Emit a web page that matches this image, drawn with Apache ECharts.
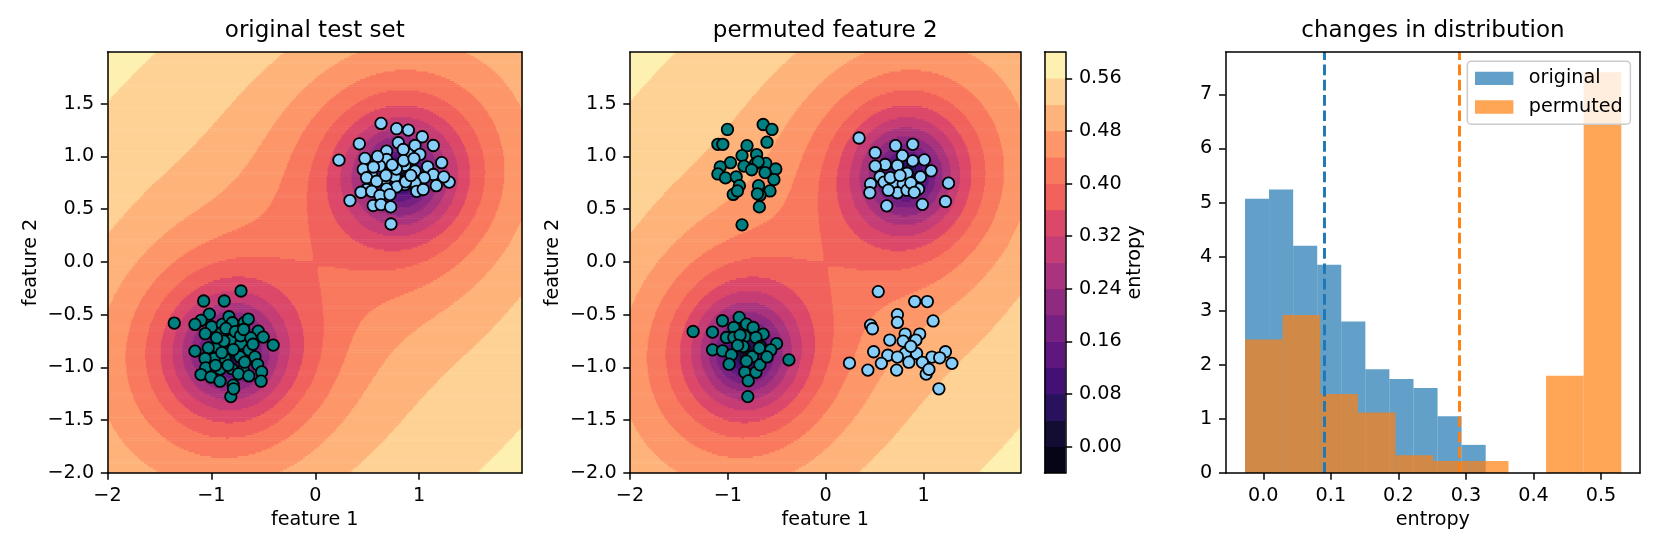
<!DOCTYPE html>
<html><head><meta charset="utf-8">
<script src="https://cdn.jsdelivr.net/npm/echarts@6.0.0/dist/echarts.min.js"></script>
<style>html,body{margin:0;padding:0;background:#fff}#c{width:1661px;height:554px}</style>
</head><body><div id="c"></div>
<script>
// ---------------- data ----------------
const origClass0 = [[-0.715,-0.275],[-1.074,-0.370],[-0.876,-0.370],[-1.357,-0.579],[-1.020,-0.494],[-1.100,-0.554],[-1.158,-0.592],[-0.997,-0.614],[-0.895,-0.592],[-0.831,-0.519],[-0.798,-0.576],[-0.684,-0.576],[-0.645,-0.541],[-0.549,-0.655],[-0.501,-0.712],[-0.405,-0.788],[-1.158,-0.845],[-0.908,-0.678],[-0.811,-0.741],[-0.715,-0.773],[-0.638,-0.836],[-0.949,-0.804],[-1.030,-0.814],[-0.870,-0.915],[-0.973,-0.915],[-1.061,-0.915],[-0.725,-0.899],[-0.581,-0.899],[-0.555,-0.972],[-1.055,-1.004],[-0.917,-1.016],[-0.805,-1.010],[-0.693,-1.026],[-0.516,-1.042],[-1.100,-1.067],[-1.004,-1.090],[-0.917,-1.130],[-0.790,-1.168],[-0.522,-1.130],[-0.813,-1.276],[-0.786,-1.202],[-0.86,-0.63],[-0.77,-0.66],[-0.72,-0.70],[-0.88,-0.75],[-0.79,-0.83],[-0.68,-0.95],[-0.62,-0.72],[-0.95,-0.72],[-0.84,-0.98],[-0.74,-1.06],[-0.64,-1.08],[-0.96,-0.98],[-0.90,-0.86],[-0.69,-0.64],[-0.60,-0.78],[-1.06,-0.68]];
const origClass1 = [[0.633,1.313],[0.783,1.263],[0.896,1.25],[1.030,1.187],[1.136,1.104],[0.424,1.12],[0.799,1.13],[0.960,1.104],[0.228,0.965],[0.478,0.981],[0.687,1.05],[0.687,0.971],[0.896,1.019],[1.007,1.019],[0.847,1.066],[0.462,0.877],[0.543,0.82],[0.494,0.798],[0.671,0.782],[0.767,0.807],[0.863,0.915],[0.960,0.861],[1.082,0.902],[1.136,0.829],[1.049,0.798],[0.960,0.75],[0.863,0.734],[0.783,0.712],[0.687,0.693],[0.591,0.765],[0.494,0.687],[0.440,0.661],[0.543,0.67],[0.623,0.63],[0.719,0.639],[0.334,0.582],[0.558,0.535],[0.633,0.544],[0.726,0.522],[0.729,0.36],[0.976,0.67],[1.039,0.687],[1.289,0.757],[1.237,0.807],[1.217,0.941],[1.165,0.723],[0.62,0.91],[0.78,0.88],[0.85,0.96],[0.68,0.82],[0.95,0.98],[0.87,0.76],[0.60,1.00],[0.74,0.92],[0.92,0.82],[0.56,0.90]];
const permClass0 = [[-1.004,1.256],[-0.639,1.303],[-0.549,1.256],[-1.102,1.115],[-1.051,1.115],[-0.804,1.102],[-0.600,1.135],[-0.855,1.008],[-0.706,1.018],[-0.718,0.931],[-0.612,0.934],[-0.973,0.941],[-1.078,0.901],[-0.835,0.908],[-0.690,0.948],[-0.510,0.881],[-1.102,0.834],[-1.024,0.797],[-0.914,0.807],[-0.882,0.723],[-0.757,0.874],[-0.620,0.847],[-0.529,0.780],[-0.569,0.673],[-0.686,0.723],[-0.671,0.633],[-0.945,0.640],[-0.902,0.673],[-0.698,0.646],[-0.678,0.522],[-0.855,0.352],
  [-1.355,-0.659],[-1.157,-0.665],[-1.055,-0.557],[-0.884,-0.526],[-0.810,-0.589],[-0.939,-0.621],[-0.741,-0.621],[-0.639,-0.684],[-1.014,-0.716],[-0.939,-0.716],[-0.826,-0.706],[-0.713,-0.716],[-1.157,-0.833],[-1.055,-0.842],[-0.963,-0.880],[-0.843,-0.801],[-0.748,-0.896],[-0.666,-0.801],[-0.987,-0.969],[-0.826,-1.045],[-0.713,-1.045],[-0.792,-1.127],[-0.672,-0.975],[-0.502,-0.774],[-0.561,-0.834],[-0.376,-0.928],[-0.796,-1.276],[-0.875,-0.693],[-0.678,-0.817],[-0.900,-0.790],[-0.600,-0.900],[-0.810,-0.940]];
const permClass1 = [[0.341,1.175],[0.714,1.102],[0.890,1.115],[0.506,1.035],[0.784,1.008],[0.608,0.924],[0.506,0.908],[1.008,0.968],[0.890,0.958],[1.078,0.864],[0.733,0.914],[0.557,0.807],[0.831,0.841],[0.969,0.807],[0.459,0.740],[0.596,0.757],[0.694,0.740],[0.792,0.740],[1.255,0.747],[0.451,0.656],[0.733,0.656],[0.831,0.680],[0.949,0.690],[0.624,0.532],[0.988,0.546],[1.224,0.573],[0.660,0.800],[0.760,0.820],[0.870,0.750],[0.640,0.680],[0.905,0.660],
  [0.537,-0.281],[0.910,-0.375],[1.039,-0.375],[0.733,-0.499],[0.733,-0.573],[0.459,-0.599],[0.478,-0.633],[1.098,-0.559],[0.961,-0.683],[0.812,-0.683],[0.655,-0.740],[0.792,-0.750],[0.922,-0.740],[0.490,-0.851],[0.635,-0.884],[0.812,-0.867],[0.929,-0.867],[0.733,-0.901],[1.224,-0.851],[1.086,-0.901],[0.988,-0.951],[1.165,-0.908],[0.243,-0.958],[0.569,-0.961],[1.290,-0.961],[0.431,-1.025],[0.725,-1.025],[1.027,-1.062],[1.055,-1.018],[1.157,-1.202],[0.870,-0.800],[0.850,-0.950]];

// histogram (density) of entropy
const origBinEdges = [-0.0271, 0.0085, 0.0442, 0.0798, 0.1154, 0.1511, 0.1867, 0.2224, 0.2580, 0.2936, 0.3293];
const origDensity  = [5.07, 5.24, 4.20, 3.85, 2.80, 1.92, 1.74, 1.57, 1.05, 0.52];
const permBinEdges = [-0.0271, 0.0286, 0.0844, 0.1401, 0.1958, 0.2515, 0.3072, 0.3630, 0.4187, 0.4744, 0.5301];
const permDensity  = [2.47, 2.92, 1.46, 1.12, 0.33, 0.22, 0.22, 0.00, 1.80, 7.41];
const meanEntropy  = [0.0923, 0.2922];   // original, permuted

// entropy contour levels and colorbar ticks
const entropyLevels = [-0.04,0.00,0.04,0.08,0.12,0.16,0.20,0.24,0.28,0.32,0.36,0.40,0.44,0.48,0.52,0.56,0.60];
const colorbarTicks = [0.00,0.08,0.16,0.24,0.32,0.40,0.48,0.56];
const featureXTicks = [-2,-1,0,1];
const featureYTicks = [-2,-1.5,-1,-0.5,0,0.5,1,1.5];
const histXTicks = [0.0,0.1,0.2,0.3,0.4,0.5];
const histYTicks = [0,1,2,3,4,5,6,7];

// model of the entropy surface (two confident wells + weak diagonal term)
const fieldCenters = [[-0.82,-0.85],[0.82,0.82]];
const fieldRange = [-0.032, 0.600];
const fieldKernelWeights = [0.85, 0.15];
const fieldKernelScales = [0.55, 1.6];
const fieldDiag = [0.05, 0.9, 1.2];

// ---------------- helpers ----------------
const FONT = 'DejaVu Sans';
const magmaAnchors = ['#000004','#0a0822','#140e36','#26125a','#3b0f70','#51127c','#641a80','#782281','#8c2981','#a1307e','#b73779','#cd4071','#de4968','#f0605d','#f7705c','#fc8961','#fe9f6d','#feb67c','#fecf92','#fde8a9','#fcfdbf'];
function hex2rgb(h){return [parseInt(h.slice(1,3),16),parseInt(h.slice(3,5),16),parseInt(h.slice(5,7),16)];}
function magma(t){
  const n = magmaAnchors.length-1; const p = Math.min(Math.max(t,0),1)*n; const i = Math.min(Math.floor(p), n-1); const f = p-i;
  const a = hex2rgb(magmaAnchors[i]), b = hex2rgb(magmaAnchors[i+1]);
  return 'rgb(' + [0,1,2].map(k=>Math.round(a[k]+(b[k]-a[k])*f)).join(',') + ')';
}
const nBands = entropyLevels.length-1;
const bandColors = [];
for (let k=0;k<nBands;k++) bandColors.push(magma((k+0.5)/nBands));

function fieldEntropy(x,y){
  let keep = 1;
  for (const c of fieldCenters){
    const r = Math.hypot(x-c[0], y-c[1]);
    let conf = 0;
    for (let k=0;k<fieldKernelWeights.length;k++) conf += fieldKernelWeights[k]*Math.exp(-r/fieldKernelScales[k]);
    keep *= (1-Math.min(conf,1));
  }
  const u = (x+y)/Math.SQRT2, w = (y-x)/Math.SQRT2;
  const du = Math.max(0, Math.abs(u)-fieldDiag[1]);
  const diag = fieldDiag[0]*(1-Math.exp(-du*du/(2*0.8*0.8)))*Math.exp(-w*w/(2*fieldDiag[2]*fieldDiag[2]));
  keep *= (1-diag);
  return fieldRange[1]-(fieldRange[1]-fieldRange[0])*(1-keep);
}
function bandOf(h){
  for (let k=0;k<nBands;k++) if (h < entropyLevels[k+1]) return k;
  return nBands-1;
}
const FX0=-2, FX1=1.99, FY0=-2, FY1=1.99, NX=420, NY=220;
const fdx=(FX1-FX0)/NX, fdy=(FY1-FY0)/NY;
const fieldRuns = [];
for (let j=0;j<NY;j++){
  const y = FY0+(j+0.5)*fdy;
  let start=0, band=bandOf(fieldEntropy(FX0+0.5*fdx,y));
  for (let i=1;i<=NX;i++){
    const b = i<NX ? bandOf(fieldEntropy(FX0+(i+0.5)*fdx,y)) : -1;
    if (b!==band){ fieldRuns.push([FX0+start*fdx, FX0+i*fdx, y, band]); start=i; band=b; }
  }
}
function renderField(params, api){
  const a = api.coord([api.value(0), api.value(2)+fdy/2]);
  const b = api.coord([api.value(1), api.value(2)-fdy/2]);
  return {type:'rect', shape:{x:a[0], y:a[1]-0.3, width:b[0]-a[0]+0.6, height:b[1]-a[1]+0.6}, style:{fill:bandColors[api.value(3)]}};
}
function renderBars(params, api){
  const a = api.coord([api.value(0), api.value(2)]);
  const b = api.coord([api.value(1), 0]);
  return {type:'rect', shape:{x:a[0], y:a[1], width:b[0]-a[0], height:b[1]-a[1]}, style:{fill:api.visual('color')}};
}
function renderColorbar(params, api){
  const a = api.coord([0, api.value(1)]);
  const b = api.coord([1, api.value(0)]);
  return {type:'rect', shape:{x:a[0], y:a[1]-0.3, width:b[0]-a[0], height:b[1]-a[1]+0.6}, style:{fill:bandColors[api.value(2)]}};
}
const histOrig = origDensity.map((h,i)=>[origBinEdges[i], origBinEdges[i+1], h]);
const histPerm = permDensity.map((h,i)=>[permBinEdges[i], permBinEdges[i+1], h]);
const cbData = bandColors.map((c,k)=>[entropyLevels[k], entropyLevels[k+1], k]);

const minus = s => String(s).replace('-', '\u2212');
const txt = {fontFamily:FONT, fontSize:19.2, color:'#000'};
const lineSt = {show:true, onZero:false, lineStyle:{color:'#000', width:1.5}};
function mainAxis(grid, pos, min, max, ticks, fmt, name, gap){
  return {type:'value', gridIndex:grid, position:pos, min, max, z:5,
    axisLine:lineSt, splitLine:{show:false},
    axisTick:{show:true, length:6.7, customValues:ticks, lineStyle:{color:'#000', width:1.5}},
    axisLabel:{show:true, margin:13.4, customValues:ticks, formatter:fmt, ...txt},
    name:name, nameLocation:'middle', nameGap:gap, nameTextStyle:txt};
}
function lineAxis(grid, pos, min, max){
  return {type:'value', gridIndex:grid, position:pos, min, max, z:5,
    axisLine:lineSt, splitLine:{show:false}, axisTick:{show:false}, axisLabel:{show:false}};
}
const fmt1 = v => minus(Number(v).toFixed(1));
const fmt0 = v => minus(Number(v).toFixed(0));
const fmt2 = v => minus(Number(v).toFixed(2));
const HX0=-0.0557, HX1=0.5578, HY1=7.784;
const PT = {symbolSize:11.5, borderColor:'#000', borderWidth:1.8};

const gridTop=52, gridH=421;
const option = {
  animation:false,
  backgroundColor:'#fff',
  title:[
    {text:'original test set', left:314.8, top:20, textAlign:'center', padding:0, textStyle:{fontFamily:FONT, fontSize:23, fontWeight:'normal', color:'#000'}},
    {text:'permuted feature 2', left:825.2, top:20, textAlign:'center', padding:0, textStyle:{fontFamily:FONT, fontSize:23, fontWeight:'normal', color:'#000'}},
    {text:'changes in distribution', left:1432.9, top:20, textAlign:'center', padding:0, textStyle:{fontFamily:FONT, fontSize:23, fontWeight:'normal', color:'#000'}}
  ],
  grid:[
    {left:107.5, top:gridTop, width:414.5, height:gridH, outerBoundsMode:'none', containLabel:false},
    {left:630, top:gridTop, width:390.4, height:gridH, outerBoundsMode:'none', containLabel:false},
    {left:1044.5, top:gridTop, width:21, height:gridH, outerBoundsMode:'none', containLabel:false},
    {left:1225.7, top:gridTop, width:414.3, height:gridH, outerBoundsMode:'none', containLabel:false}
  ],
  xAxis:[
    mainAxis(0,'bottom',FX0,FX1,featureXTicks,fmt0,'feature 1',38),
    lineAxis(0,'top',FX0,FX1),
    mainAxis(1,'bottom',FX0,FX1,featureXTicks,fmt0,'feature 1',38),
    lineAxis(1,'top',FX0,FX1),
    lineAxis(2,'bottom',0,1),
    lineAxis(2,'top',0,1),
    mainAxis(3,'bottom',HX0,HX1,histXTicks,fmt1,'entropy',38),
    lineAxis(3,'top',HX0,HX1)
  ],
  yAxis:[
    mainAxis(0,'left',FY0,FY1,featureYTicks,fmt1,'feature 2',67),
    lineAxis(0,'right',FY0,FY1),
    mainAxis(1,'left',FY0,FY1,featureYTicks,fmt1,'feature 2',67),
    lineAxis(1,'right',FY0,FY1),
    lineAxis(2,'left',entropyLevels[0],entropyLevels[nBands]),
    mainAxis(2,'right',entropyLevels[0],entropyLevels[nBands],colorbarTicks,fmt2,'entropy',60),
    mainAxis(3,'left',0,HY1,histYTicks,fmt0,'',0),
    lineAxis(3,'right',0,HY1)
  ],
  legend:{
    data:['original','permuted'], orient:'vertical', right:30.6, top:61.2,
    itemWidth:38.4, itemHeight:13.4, itemGap:9.6, padding:[7.7,7.7,7.7,7.7],
    backgroundColor:'rgba(255,255,255,0.8)', borderColor:'#cccccc', borderWidth:1.5, borderRadius:4,
    icon:'rect', selectedMode:false,
    textStyle:{fontFamily:FONT, fontSize:19.2, color:'#000', lineHeight:19, padding:[0,0,0,10.4]}
  },
  series:[
    {type:'custom', name:'field0', xAxisIndex:0, yAxisIndex:0, data:fieldRuns, renderItem:renderField, encode:{x:[0,1], y:2}, clip:true, z:1, silent:true, progressive:0},
    {type:'custom', name:'field1', xAxisIndex:2, yAxisIndex:2, data:fieldRuns, renderItem:renderField, encode:{x:[0,1], y:2}, clip:true, z:1, silent:true, progressive:0},
    {type:'custom', name:'colorbar', xAxisIndex:4, yAxisIndex:4, data:cbData, renderItem:renderColorbar, encode:{y:[0,1]}, clip:true, z:1, silent:true},
    {type:'scatter', name:'o0', xAxisIndex:0, yAxisIndex:0, data:origClass0, symbolSize:PT.symbolSize, z:3, itemStyle:{color:'#008080', borderColor:PT.borderColor, borderWidth:PT.borderWidth, opacity:1}},
    {type:'scatter', name:'o1', xAxisIndex:0, yAxisIndex:0, data:origClass1, symbolSize:PT.symbolSize, z:3, itemStyle:{color:'#87cefa', borderColor:PT.borderColor, borderWidth:PT.borderWidth, opacity:1}},
    {type:'scatter', name:'p0', xAxisIndex:2, yAxisIndex:2, data:permClass0, symbolSize:PT.symbolSize, z:3, itemStyle:{color:'#008080', borderColor:PT.borderColor, borderWidth:PT.borderWidth, opacity:1}},
    {type:'scatter', name:'p1', xAxisIndex:2, yAxisIndex:2, data:permClass1, symbolSize:PT.symbolSize, z:3, itemStyle:{color:'#87cefa', borderColor:PT.borderColor, borderWidth:PT.borderWidth, opacity:1}},
    {type:'custom', name:'original', xAxisIndex:6, yAxisIndex:6, data:histOrig, renderItem:renderBars, encode:{x:[0,1], y:2}, z:1, itemStyle:{color:'rgba(31,119,180,0.7)'}},
    {type:'custom', name:'permuted', xAxisIndex:6, yAxisIndex:6, data:histPerm, renderItem:renderBars, encode:{x:[0,1], y:2}, z:1, itemStyle:{color:'rgba(255,127,14,0.7)'}},
    {type:'line', name:'meanO', xAxisIndex:6, yAxisIndex:6, data:[], z:3, silent:true,
      markLine:{symbol:['none','none'], silent:true, animation:false, label:{show:false}, lineStyle:{color:'#1f77b4', type:[10.7,4.6], width:2.9}, data:[{xAxis:meanEntropy[0]}]}},
    {type:'line', name:'meanP', xAxisIndex:6, yAxisIndex:6, data:[], z:3, silent:true,
      markLine:{symbol:['none','none'], silent:true, animation:false, label:{show:false}, lineStyle:{color:'#ff7f0e', type:[10.7,4.6], width:2.9}, data:[{xAxis:meanEntropy[1]}]}}
  ]
};
const chart = echarts.init(document.getElementById('c'), null, {renderer:'canvas'});
chart.setOption(option);
</script></body></html>
